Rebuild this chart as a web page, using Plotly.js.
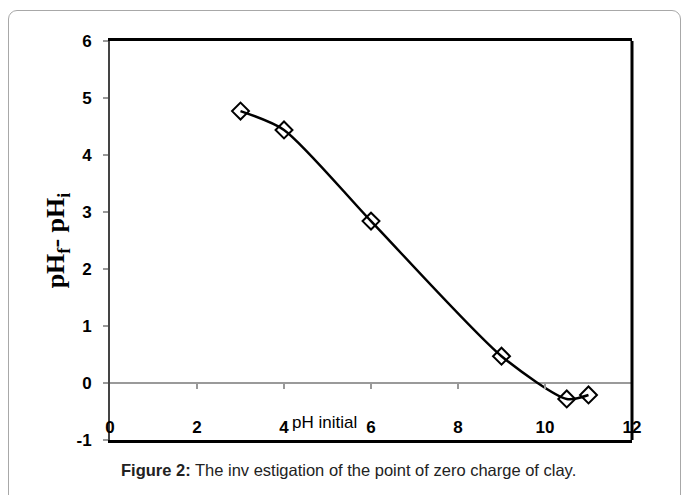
<!DOCTYPE html>
<html>
<head>
<meta charset="utf-8">
<script src="https://cdn.plot.ly/plotly-3.0.1.min.js"></script>
<style>
  html, body { margin: 0; padding: 0; background: #fff; }
  #frame { position: absolute; left: 8px; top: 10px; width: 673px; height: 520px;
           border: 1px solid #a8a8a8; border-radius: 9px; box-sizing: border-box; }
  #chart { position: absolute; left: 0; top: 0; width: 683px; height: 495px; }
</style>
</head>
<body>
<div id="frame"></div>
<div id="chart"></div>
<script>
// Data
const pHInitial = [3, 4, 6, 9, 10.5, 11];
const pHDiff = [4.77, 4.44, 2.84, 0.47, -0.28, -0.21];
const xTicks = [0, 2, 4, 6, 8, 10, 12];
const yTicks = [-1, 0, 1, 2, 3, 4, 5, 6];

const tickFont = { family: 'Liberation Sans Narrow, Liberation Sans, Arial, sans-serif', size: 17, color: '#000', weight: 'bold' };

const trace = {
  x: pHInitial,
  y: pHDiff,
  type: 'scatter',
  mode: 'lines+markers',
  line: { color: '#000', width: 2.5, shape: 'spline', smoothing: 0.7 },
  marker: { symbol: 'diamond-open', size: 13, color: '#000', line: { width: 2, color: '#000' } },
  showlegend: false,
  hoverinfo: 'x+y'
};

// invisible helper traces so the extra x axes are drawn
const tickHelper = { x: [0], y: [0], xaxis: 'x2', yaxis: 'y', mode: 'markers', marker: { opacity: 0 }, showlegend: false, hoverinfo: 'skip' };
const labelHelper = { x: [0], y: [0], xaxis: 'x3', yaxis: 'y', mode: 'markers', marker: { opacity: 0 }, showlegend: false, hoverinfo: 'skip' };

const layout = {
  width: 683, height: 495,
  margin: { l: 110, r: 51, t: 41, b: 55 },
  paper_bgcolor: 'rgba(0,0,0,0)',
  plot_bgcolor: 'rgba(0,0,0,0)',
  xaxis: {
    range: [0, 12], tickvals: xTicks,
    showgrid: false, zeroline: false,
    showline: true, linecolor: '#000', linewidth: 3, mirror: true,
    ticks: '', showticklabels: false
  },
  xaxis2: {
    range: [0, 12], tickvals: xTicks.slice(1, -1), overlaying: 'x',
    anchor: 'free', position: 1/7, side: 'bottom',
    showgrid: false, zeroline: false, showline: false,
    ticks: 'outside', ticklen: 5, tickcolor: '#999', tickwidth: 1.5,
    showticklabels: false
  },
  xaxis3: {
    range: [0, 12], tickvals: xTicks, ticktext: xTicks.map(String), overlaying: 'x',
    anchor: 'free', position: 0.062, side: 'bottom',
    showgrid: false, zeroline: false, showline: false,
    ticks: '', tickfont: tickFont
  },
  yaxis: {
    range: [-1, 6], tickvals: yTicks, ticktext: yTicks.map(String),
    showgrid: false, zeroline: true, zerolinecolor: '#9a9a9a', zerolinewidth: 1.5,
    showline: true, linecolor: '#444', linewidth: 2,
    ticks: 'outside', ticklen: 5, tickcolor: '#999', tickwidth: 1.5,
    ticklabelstandoff: 8,
    tickfont: tickFont,
    title: { text: 'pH<sub>f</sub>- pH<sub>i</sub>', standoff: 4,
             font: { family: 'Liberation Serif, Times New Roman, serif', size: 26, color: '#000', weight: 'bold' } }
  },
  shapes: [
    { type: 'line', xref: 'paper', yref: 'paper', x0: 1, x1: 1, y0: 0, y1: 1,
      line: { color: '#000', width: 3 } }
  ],
  annotations: [
    { text: 'pH initial', xref: 'paper', yref: 'paper', x: 0.411, y: 0.043,
      xanchor: 'center', yanchor: 'middle', showarrow: false,
      font: { family: 'Liberation Sans Narrow, Liberation Sans, Arial, sans-serif', size: 17, color: '#000' } },
    { text: '<b>Figure 2:</b> The inv estigation of the point of zero charge of clay.',
      xref: 'paper', yref: 'paper', x: 0.457, y: -0.075,
      xanchor: 'center', yanchor: 'middle', showarrow: false,
      font: { family: 'Liberation Sans, Arial, sans-serif', size: 16.5, color: '#222' } }
  ]
};

Plotly.newPlot('chart', [trace, tickHelper, labelHelper], layout, { displayModeBar: false, staticPlot: true });
</script>
</body>
</html>
